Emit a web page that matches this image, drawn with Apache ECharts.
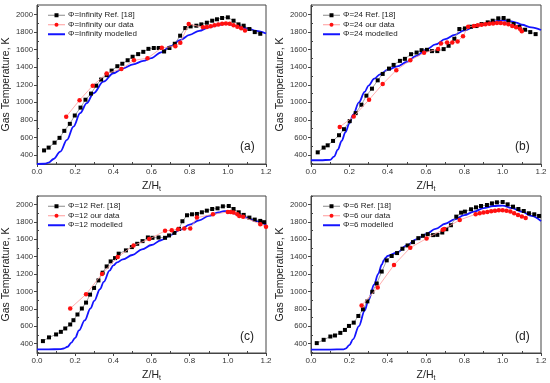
<!DOCTYPE html>
<html><head><meta charset="utf-8">
<script src="https://cdn.jsdelivr.net/npm/echarts@6/dist/echarts.min.js"></script>
<style>html,body{margin:0;padding:0;background:#fff}#c{width:550px;height:383px}</style>
</head><body><div id="c"></div>
<script>
const panelLabels = ['(a)','(b)','(c)','(d)'];
const phiNames = ['Infinity','24','12','6'];
const xTicks = [0,0.2,0.4,0.6,0.8,1.0,1.2];
const yTicks = [400,600,800,1000,1200,1400,1600,1800,2000];

const refA = [[0.037,452],[0.061,484],[0.092,540],[0.118,595],[0.143,675],[0.172,755],[0.198,850],[0.228,940],[0.254,1030],[0.283,1100],[0.31,1190],[0.336,1260],[0.365,1310],[0.391,1362],[0.421,1412],[0.447,1440],[0.475,1480],[0.501,1520],[0.53,1550],[0.557,1576],[0.584,1610],[0.612,1620],[0.638,1620],[0.666,1580],[0.694,1620],[0.722,1668],[0.75,1760],[0.777,1847],[0.805,1866],[0.835,1874],[0.861,1889],[0.89,1908],[0.918,1931],[0.943,1947],[0.97,1962],[1.0,1969],[1.03,1931],[1.056,1889],[1.083,1874],[1.113,1836],[1.141,1801],[1.17,1782]];
const ourA = [[0.153,837],[0.223,1025],[0.292,1190],[0.365,1330],[0.442,1380],[0.508,1480],[0.579,1503],[0.654,1622],[0.725,1640],[0.751,1679],[0.795,1893],[0.87,1855],[0.89,1860],[0.91,1868],[0.93,1880],[0.95,1888],[0.97,1895],[0.99,1898],[1.01,1895],[1.03,1880],[1.05,1862],[1.07,1845],[1.09,1820]];
const modA = [[0,297],[0.04,300],[0.06,312],[0.087,354],[0.122,438],[0.157,571],[0.191,723],[0.226,876],[0.261,990],[0.296,1104],[0.348,1236],[0.4,1332],[0.452,1389],[0.504,1434],[0.557,1472],[0.6,1505],[0.65,1570],[0.7,1640],[0.75,1710],[0.8,1770],[0.85,1815],[0.9,1855],[0.95,1882],[0.98,1892],[1.0,1892],[1.05,1872],[1.1,1845],[1.15,1815],[1.2,1785]];

const refB = [[0.035,430],[0.066,484],[0.087,510],[0.115,560],[0.146,625],[0.172,694],[0.202,786],[0.233,877],[0.263,973],[0.289,1076],[0.318,1156],[0.348,1251],[0.374,1324],[0.407,1385],[0.431,1427],[0.464,1473],[0.49,1496],[0.522,1549],[0.551,1568],[0.577,1595],[0.605,1599],[0.631,1584],[0.659,1584],[0.692,1607],[0.718,1645],[0.748,1725],[0.774,1836],[0.803,1843],[0.835,1862],[0.863,1870],[0.89,1893],[0.922,1912],[0.948,1931],[0.977,1958],[1.005,1962],[1.03,1931],[1.057,1893],[1.087,1862],[1.117,1828],[1.144,1801],[1.172,1778]];
const ourB = [[0.15,720],[0.223,839],[0.303,1030],[0.374,1209],[0.445,1366],[0.518,1481],[0.59,1565],[0.663,1607],[0.678,1672],[0.71,1683],[0.737,1683],[0.765,1694],[0.793,1755],[0.82,1862],[0.85,1870],[0.87,1878],[0.89,1885],[0.91,1890],[0.93,1895],[0.95,1900],[0.97,1905],[0.99,1905],[1.01,1900],[1.03,1890],[1.05,1870],[1.07,1855],[1.09,1840],[1.10,1810]];
const modB = [[0,340],[0.05,340],[0.1,345],[0.12,380],[0.14,460],[0.16,560],[0.18,660],[0.2,760],[0.22,860],[0.25,1000],[0.28,1120],[0.3,1190],[0.33,1270],[0.36,1320],[0.4,1370],[0.45,1410],[0.5,1460],[0.55,1530],[0.6,1600],[0.65,1660],[0.7,1720],[0.75,1770],[0.8,1820],[0.85,1860],[0.9,1890],[0.95,1920],[1.0,1935],[1.03,1930],[1.07,1910],[1.1,1885],[1.15,1855],[1.2,1825]];

const refC = [[0.031,427],[0.063,470],[0.1,504],[0.125,534],[0.148,573],[0.174,619],[0.191,668],[0.212,734],[0.235,803],[0.257,871],[0.278,963],[0.299,1040],[0.322,1127],[0.344,1216],[0.365,1288],[0.386,1346],[0.409,1384],[0.428,1435],[0.466,1473],[0.497,1511],[0.525,1549],[0.553,1580],[0.581,1622],[0.605,1618],[0.637,1622],[0.671,1618],[0.692,1645],[0.72,1675],[0.744,1721],[0.762,1809],[0.786,1878],[0.812,1889],[0.838,1893],[0.864,1912],[0.89,1931],[0.918,1950],[0.946,1958],[0.974,1981],[1.005,1985],[1.03,1950],[1.057,1912],[1.083,1882],[1.113,1851],[1.141,1828],[1.17,1813],[1.19,1798]];
const ourC = [[0.174,803],[0.257,967],[0.341,1202],[0.423,1397],[0.506,1530],[0.588,1603],[0.671,1698],[0.706,1706],[0.739,1717],[0.772,1725],[0.803,1725],[0.838,1851],[0.922,1889],[1.0,1916],[1.015,1915],[1.03,1910],[1.05,1890],[1.06,1870],[1.08,1860],[1.17,1775],[1.2,1745]];
const modC = [[0,332],[0.06,332],[0.12,334],[0.14,342],[0.16,362],[0.18,410],[0.2,465],[0.22,550],[0.25,665],[0.28,803],[0.3,890],[0.33,1025],[0.35,1110],[0.38,1240],[0.4,1300],[0.42,1335],[0.45,1370],[0.5,1420],[0.55,1485],[0.6,1535],[0.65,1590],[0.7,1650],[0.75,1710],[0.8,1770],[0.85,1820],[0.9,1870],[0.95,1910],[0.98,1925],[1.0,1925],[1.05,1890],[1.1,1850],[1.15,1810],[1.2,1770]];

const refD = [[0.03,404],[0.066,442],[0.101,480],[0.125,492],[0.153,522],[0.177,556],[0.198,602],[0.223,640],[0.247,717],[0.271,793],[0.294,885],[0.32,996],[0.343,1091],[0.369,1229],[0.395,1358],[0.421,1408],[0.449,1442],[0.477,1492],[0.504,1530],[0.532,1568],[0.56,1614],[0.584,1641],[0.609,1660],[0.637,1649],[0.659,1652],[0.685,1679],[0.706,1717],[0.73,1763],[0.758,1862],[0.783,1908],[0.803,1920],[0.835,1947],[0.861,1969],[0.887,1985],[0.918,1996],[0.944,2015],[0.97,2027],[1.0,2031],[1.026,2004],[1.054,1977],[1.082,1950],[1.11,1927],[1.137,1901],[1.165,1889],[1.19,1870]];
const ourD = [[0.264,839],[0.348,1045],[0.433,1305],[0.518,1504],[0.603,1610],[0.687,1710],[0.695,1720],[0.776,1824],[0.859,1890],[0.88,1900],[0.9,1910],[0.92,1915],[0.94,1925],[0.96,1930],[0.98,1935],[1.0,1935],[1.02,1930],[1.04,1920],[1.06,1900],[1.08,1880],[1.10,1865],[1.12,1845]];
const modD = [[0,330],[0.1,330],[0.17,332],[0.18,340],[0.2,380],[0.22,450],[0.25,600],[0.28,780],[0.3,900],[0.33,1080],[0.35,1200],[0.37,1310],[0.38,1360],[0.39,1390],[0.4,1410],[0.45,1450],[0.5,1530],[0.55,1600],[0.6,1660],[0.65,1720],[0.7,1780],[0.75,1830],[0.8,1880],[0.85,1920],[0.9,1960],[0.95,1985],[1.0,1990],[1.05,1960],[1.1,1920],[1.15,1870],[1.2,1810]];

const refs = [refA, refB, refC, refD];
const ours = [ourA, ourB, ourC, ourD];
const mods = [modA, modB, modC, modD];

const FONT = 'Liberation Sans, Arial, sans-serif';
const grids = [
  {left:36, top:5, width:230, height:159},
  {left:311, top:5, width:230, height:159},
  {left:36, top:196, width:230, height:158},
  {left:311, top:196, width:230, height:158}
];
const yRanges = [[297,2110],[297,2110],[290,2100],[290,2100]];
const xMinor = [0.1,0.3,0.5,0.7,0.9,1.1];
const yMinor = [300,500,700,900,1100,1300,1500,1700,1900,2100];
const frame = '#444';
const REF_LINE = '#8a8a8a', OUR_LINE = '#ff9a9a', MOD = '#1414ff';

const option = {
  animation:false,
  backgroundColor:'#fff',
  grid: grids.map(g => Object.assign({show:true, borderColor:frame, borderWidth:1, containLabel:false}, g)),
  xAxis: [], yAxis: [], series: [], legend: [], graphic: []
};

for (let i=0;i<4;i++){
  const g = grids[i];
  option.xAxis.push({
    type:'value', gridIndex:i, min:0, max:1.2, interval:0.2,
    name:'Z/H{s|t}', nameLocation:'middle', nameGap:16,
    nameTextStyle:{fontFamily:FONT, fontSize:10.5, color:'#222', rich:{s:{fontSize:7, verticalAlign:'bottom', padding:[6,0,0,0], fontFamily:FONT, color:'#222'}}},
    axisLine:{show:true, lineStyle:{color:frame, width:1}},
    axisTick:{show:true, inside:false, length:3, lineStyle:{color:frame}},
    axisLabel:{fontFamily:FONT, fontSize:8, color:'#333', margin:4, formatter:v=>v.toFixed(1)},
    splitLine:{show:false}
  });
  option.xAxis.push({
    type:'value', gridIndex:i, min:0, max:1.2, position:'bottom',
    axisLine:{show:false}, axisLabel:{show:false}, splitLine:{show:false},
    axisTick:{show:true, inside:true, length:2, customValues:xMinor, lineStyle:{color:frame}}
  });
  const yr = yRanges[i];
  option.yAxis.push({
    type:'value', gridIndex:i, min:yr[0], max:yr[1],
    name:'Gas Temperature, K', nameLocation:'middle', nameGap:23,
    nameTextStyle:{fontFamily:FONT, fontSize:10.5, color:'#222'},
    axisLine:{show:true, lineStyle:{color:frame, width:1}},
    axisTick:{show:true, length:3, customValues:yTicks, lineStyle:{color:frame}},
    axisLabel:{fontFamily:FONT, fontSize:7.7, color:'#333', margin:4, customValues:yTicks, formatter:v=>String(v)},
    splitLine:{show:false}
  });
  option.yAxis.push({
    type:'value', gridIndex:i, min:yr[0], max:yr[1], position:'left',
    axisLine:{show:false}, axisLabel:{show:false}, splitLine:{show:false},
    axisTick:{show:true, inside:true, length:2, customValues:yMinor.filter(v=>v>=yr[0]&&v<=yr[1]), lineStyle:{color:frame}}
  });
  const p = phiNames[i];
  const n1 = '\u03A6='+p+' Ref. [18]', n2 = '\u03A6='+p+' our data', n3 = '\u03A6='+p+' modelled';
  option.series.push({
    name:n1, type:'line', xAxisIndex:2*i, yAxisIndex:2*i, data:refs[i],
    symbol:'rect', symbolSize:4, itemStyle:{color:'#000'},
    lineStyle:{color:REF_LINE, width:0.8}, z:3
  });
  option.series.push({
    name:n2, type:'line', xAxisIndex:2*i, yAxisIndex:2*i, data:ours[i],
    symbol:'circle', symbolSize:4.5, itemStyle:{color:'#ff1010'},
    lineStyle:{color:OUR_LINE, width:0.8}, z:4
  });
  option.series.push({
    name:n3, type:'line', xAxisIndex:2*i, yAxisIndex:2*i, data:mods[i],
    symbol:'none', smooth:0.35, smoothMonotone:'x',
    lineStyle:{color:MOD, width:1.8}, itemStyle:{color:MOD}, z:2
  });
  option.legend.push({
    data:[
      {name:n1, itemStyle:{color:'#000'}, lineStyle:{color:REF_LINE, width:1}},
      {name:n2, itemStyle:{color:'#ff1010'}, lineStyle:{color:OUR_LINE, width:1}},
      {name:n3, itemStyle:{opacity:0}, lineStyle:{color:MOD, width:2}}
    ],
    orient:'vertical', left:g.left+11, top:g.top+6,
    padding:0, itemGap:1, itemWidth:17, itemHeight:5,
    textStyle:{fontFamily:FONT, fontSize:8, color:'#222', lineHeight:8.5, padding:[0,0,0,-2]}
  });
  option.graphic.push({
    type:'text', left:g.left+204, top:g.top+g.height-23,
    style:{text:panelLabels[i], font:'12px '+FONT, fill:'#222'}
  });
}

const chart = echarts.init(document.getElementById('c'), null, {renderer:'canvas'});
chart.setOption(option);
</script>
</body></html>
